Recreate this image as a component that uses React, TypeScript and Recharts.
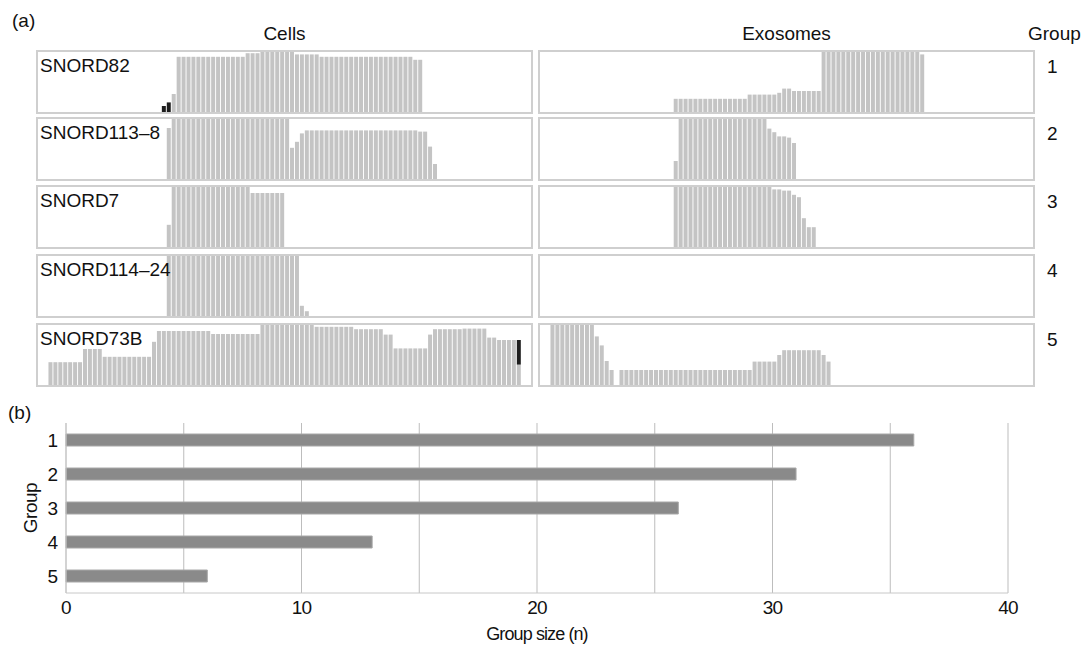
import React from 'react';
import { BarChart, Bar, XAxis, YAxis, CartesianGrid, Label } from 'recharts';

// ---------- Panel (a): read-coverage profiles ----------
// Each panel is split into 100 positions; runs are [firstPos, lastPos, coverage % of panel max]
const N_POS = 100;

const GENES = ['SNORD82', 'SNORD113–8', 'SNORD7', 'SNORD114–24', 'SNORD73B'];
const GROUP_LABELS = ['1', '2', '3', '4', '5'];

const SNORD82_CELLS = [[27, 27, 30], [28, 41, 92], [42, 44, 98], [45, 51, 100], [52, 56, 96], [57, 75, 92], [76, 77, 87]];
const SNORD82_CELLS_ALT = [[25, 25, 10], [26, 26, 16]];
const SNORD113_8_CELLS = [[26, 26, 85], [27, 50, 100], [51, 51, 52], [52, 52, 62], [53, 53, 76], [54, 76, 81], [77, 78, 79], [79, 79, 54], [80, 80, 25]];
const SNORD7_CELLS = [[26, 26, 37], [27, 42, 100], [43, 49, 90]];
const SNORD114_24_CELLS = [[26, 52, 100], [53, 53, 17], [54, 54, 8]];
const SNORD73B_CELLS = [[2, 8, 38], [9, 12, 60], [13, 22, 47], [23, 23, 72], [24, 34, 90], [35, 44, 85], [45, 55, 100], [56, 63, 97], [64, 69, 93], [70, 71, 84], [72, 78, 61], [79, 79, 84], [80, 85, 93], [86, 90, 94], [91, 92, 79], [93, 96, 75], [97, 97, 34]];
const SNORD73B_CELLS_ALT = [[97, 97, 41]];

const SNORD82_EXO = [[27, 41, 22], [42, 47, 29], [48, 48, 32], [49, 50, 39], [51, 56, 35], [57, 76, 100], [77, 77, 96]];
const SNORD113_8_EXO = [[27, 27, 30], [28, 45, 100], [46, 46, 84], [47, 47, 78], [48, 49, 71], [50, 50, 69], [51, 51, 60]];
const SNORD7_EXO = [[27, 46, 100], [47, 48, 96], [49, 50, 94], [51, 51, 87], [52, 52, 83], [53, 53, 48], [54, 55, 33]];
const SNORD114_24_EXO: number[][] = [];
const SNORD73B_EXO = [[2, 10, 100], [11, 11, 81], [12, 12, 66], [13, 13, 40], [14, 14, 25], [16, 42, 25], [43, 47, 39], [48, 48, 50], [49, 56, 58], [57, 57, 50], [58, 58, 39]];

const CELLS = [SNORD82_CELLS, SNORD113_8_CELLS, SNORD7_CELLS, SNORD114_24_CELLS, SNORD73B_CELLS];
const CELLS_ALT = [SNORD82_CELLS_ALT, [], [], [], SNORD73B_CELLS_ALT];
const EXOSOMES = [SNORD82_EXO, SNORD113_8_EXO, SNORD7_EXO, SNORD114_24_EXO, SNORD73B_EXO];

// ---------- Panel (b): group sizes ----------
const GROUPS = ['1', '2', '3', '4', '5'];
const GROUP_SIZES = [36, 31, 26, 13, 6];
const X_TICKS = [0, 5, 10, 15, 20, 25, 30, 35, 40];
const X_TICK_LABELS = ['0', '', '10', '', '20', '', '30', '', '40'];

// ---------- layout ----------
const PANEL_W = 497;
const PANEL_H = 64;
const COL_X = [36, 538];
const ROW_Y = [50, 117, 185, 254, 323];
const FONT = "'Liberation Sans', Arial, Helvetica, sans-serif";

function expandRuns(runs: number[][]) {
  const arr: number[] = new Array(N_POS).fill(0);
  runs.forEach(([s, e, v]) => {
    for (let i = s; i <= e; i++) arr[i] = v;
  });
  return arr;
}

function CoveragePanel({ x, y, label, runs, altRuns }: { x: number; y: number; label?: string; runs: number[][]; altRuns: number[][] }) {
  const cov = expandRuns(runs);
  const alt = expandRuns(altRuns);
  const data = cov.map((v, i) => ({ pos: i, cov: v, alt: alt[i] }));
  return (
    <div
      style={{
        position: 'absolute',
        left: x,
        top: y,
        width: PANEL_W,
        height: PANEL_H,
        border: '2px solid #cfcfcf',
        boxSizing: 'border-box',
      }}
    >
      <BarChart
        width={PANEL_W - 4}
        height={PANEL_H - 4}
        data={data}
        margin={{ top: 0, right: 0, bottom: 0, left: 0 }}
        barCategoryGap={0.6}
      >
        <XAxis dataKey="pos" hide />
        <YAxis hide domain={[0, 100]} />
        <Bar dataKey="cov" stackId="c" fill="#c4c4c4" isAnimationActive={false} />
        <Bar dataKey="alt" stackId="c" fill="#1e1e1e" isAnimationActive={false} />
      </BarChart>
      {label ? (
        <div style={{ position: 'absolute', left: 2, top: 4, fontSize: 19, lineHeight: '19px', color: '#111' }}>{label}</div>
      ) : null}
    </div>
  );
}

export default function App() {
  const groupData = GROUPS.map((g, i) => ({ group: g, n: GROUP_SIZES[i] }));
  const txt = (left: number, top: number, s: string, extra: React.CSSProperties = {}) => (
    <div style={{ position: 'absolute', left, top, fontSize: 19, lineHeight: '19px', color: '#111', whiteSpace: 'nowrap', ...extra }}>{s}</div>
  );
  return (
    <div style={{ position: 'absolute', left: 0, top: 0, width: 1088, height: 648, background: '#fff', fontFamily: FONT, overflow: 'hidden' }}>
      {txt(12, 11, '(a)')}
      <div style={{ position: 'absolute', left: COL_X[0], top: 24, width: PANEL_W, textAlign: 'center', fontSize: 19, lineHeight: '19px', color: '#111' }}>Cells</div>
      <div style={{ position: 'absolute', left: COL_X[1], top: 24, width: PANEL_W, textAlign: 'center', fontSize: 19, lineHeight: '19px', color: '#111' }}>Exosomes</div>
      {txt(1028, 24, 'Group')}
      {GENES.map((g, r) => (
        <React.Fragment key={g}>
          <CoveragePanel x={COL_X[0]} y={ROW_Y[r]} label={g} runs={CELLS[r]} altRuns={CELLS_ALT[r]} />
          <CoveragePanel x={COL_X[1]} y={ROW_Y[r]} runs={EXOSOMES[r]} altRuns={[]} />
          {txt(1047, ROW_Y[r] + 7, GROUP_LABELS[r])}
        </React.Fragment>
      ))}
      {txt(8, 403, '(b)')}
      <div style={{ position: 'absolute', left: 0, top: 398 }}>
        <BarChart
          layout="vertical"
          width={1088}
          height={250}
          data={groupData}
          margin={{ top: 25, right: 80, bottom: 25, left: 0 }}
        >
          <CartesianGrid horizontal={false} stroke="#bdbdbd" />
          <XAxis
            type="number"
            domain={[0, 40]}
            ticks={X_TICKS}
            tickFormatter={(v: number) => X_TICK_LABELS[X_TICKS.indexOf(v)]}
            axisLine={{ stroke: '#c8c8c8' }}
            tickLine={false}
            height={30}
            tick={{ fontSize: 19, fill: '#111', fontFamily: FONT, letterSpacing: -0.8 }}
          >
            <Label value="Group size (n)" position="bottom" offset={4} style={{ fontSize: 18, fill: '#111', fontFamily: FONT, letterSpacing: -0.9 }} />
          </XAxis>
          <YAxis
            type="category"
            dataKey="group"
            width={66}
            axisLine={{ stroke: '#c8c8c8' }}
            tickLine={false}
            tick={{ fontSize: 19, fill: '#111', fontFamily: FONT }}
          >
            <Label value="Group" angle={-90} position="insideLeft" offset={30} style={{ fontSize: 19, fill: '#111', fontFamily: FONT, textAnchor: 'middle', letterSpacing: -0.5 }} />
          </YAxis>
          <Bar dataKey="n" fill="#8a8a8a" stroke="#a8a8a8" strokeWidth={1} barSize={12} isAnimationActive={false} />
        </BarChart>
      </div>
    </div>
  );
}
